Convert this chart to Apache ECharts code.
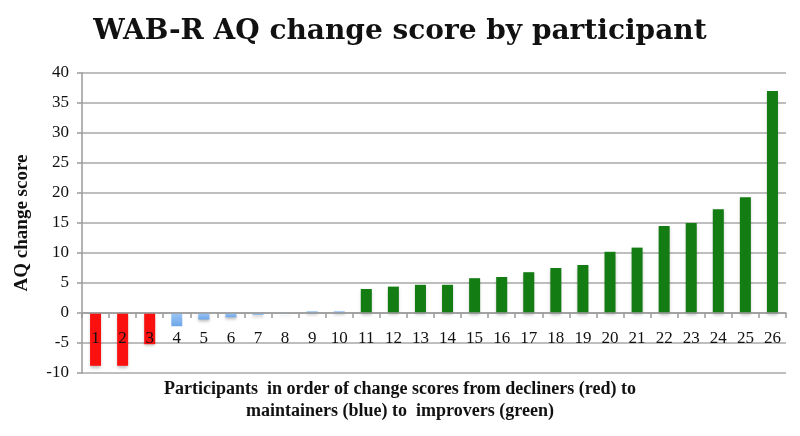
<!DOCTYPE html>
<html>
<head>
<meta charset="utf-8">
<script src="https://cdn.jsdelivr.net/npm/echarts@6/dist/echarts.min.js"></script>
<style>
  html, body { margin: 0; padding: 0; background: #fff; }
  #chart { width: 800px; height: 436px; }
</style>
</head>
<body>
<div id="chart"></div>
<script>
// participants, sorted by change score
var participants = ['1', '2', '3', '4', '5', '6', '7', '8', '9', '10', '11', '12', '13',
  '14', '15', '16', '17', '18', '19', '20', '21', '22', '23', '24', '25', '26']
var changeScores = [-8.8, -8.8, -5.2, -2.2, -1.1, -0.7, -0.3, -0.1, 0.3, 0.3, 4.0, 4.4, 4.7,
  4.7, 5.8, 6.0, 6.8, 7.5, 8.0, 10.2, 10.9, 14.5, 15.0, 17.3, 19.3, 37.0]
// d = decliner, m = maintainer, i = improver
var groups = ['d', 'd', 'd', 'm', 'm', 'm', 'm', 'm', 'm', 'm', 'i', 'i', 'i',
  'i', 'i', 'i', 'i', 'i', 'i', 'i', 'i', 'i', 'i', 'i', 'i', 'i']
var yTicks = [-10, 40, 5]
var xTitleLines = [
  'Participants  in order of change scores from decliners (red) to',
  'maintainers (blue) to  improvers (green)'
]

var groupColors = {
  d: '#fb1010',
  m: new echarts.graphic.LinearGradient(0, 0, 0, 1, [
    { offset: 0, color: '#9cc6f6' },
    { offset: 1, color: '#6ea6e8' }
  ]),
  i: '#137c13'
}

var serif = "'Liberation Serif', 'DejaVu Serif', serif"

var barData = changeScores.map(function (v, i) {
  return {
    value: v,
    itemStyle: { color: groupColors[groups[i]] }
  }
})

var myChart = echarts.init(document.getElementById('chart'))
var option = {
  backgroundColor: '#fff',
  title: {
    text: 'WAB-R AQ change score by participant',
    left: 'center',
    top: 13,
    textStyle: {
      fontFamily: "'DejaVu Serif', serif",
      fontWeight: 'bold',
      fontSize: 28,
      color: '#111'
    }
  },
  grid: { left: 82, right: 14, top: 73, bottom: 63 },
  xAxis: {
    type: 'category',
    data: participants,
    // axis sits on the zero line: 10 units * 6px above the grid bottom
    offset: -60,
    axisLine: { onZero: false, lineStyle: { color: '#9a9a9a', width: 1.5 } },
    axisTick: { show: true, length: 5, lineStyle: { color: '#9a9a9a', width: 1.5 } },
    axisLabel: {
      margin: 17,
      fontFamily: serif,
      fontSize: 17,
      color: '#111'
    },
    z: 3
  },
  yAxis: {
    type: 'value',
    min: yTicks[0],
    max: yTicks[1],
    interval: yTicks[2],
    name: 'AQ change score',
    nameLocation: 'middle',
    nameRotate: 90,
    nameGap: 50,
    nameTextStyle: {
      fontFamily: serif,
      fontWeight: 'bold',
      fontSize: 19,
      color: '#111'
    },
    axisLine: { show: true, lineStyle: { color: '#9a9a9a', width: 1.5 } },
    axisTick: { show: true, length: 5, lineStyle: { color: '#9a9a9a', width: 1.5 } },
    axisLabel: {
      margin: 13,
      fontFamily: serif,
      fontSize: 17,
      color: '#111'
    },
    splitLine: { show: true, lineStyle: { color: '#a8a8a8', width: 1.5 } }
  },
  graphic: xTitleLines.map(function (line, i) {
    return {
      type: 'text',
      left: 'center',
      top: 380 + i * 22,
      style: {
        text: line,
        fontFamily: serif,
        fontWeight: 'bold',
        fontSize: 18,
        fill: '#111'
      }
    }
  }),
  series: [{
    type: 'bar',
    data: barData,
    barWidth: 11,
    itemStyle: {
      shadowColor: 'rgba(0,0,0,0.25)',
      shadowBlur: 3,
      shadowOffsetY: 2
    }
  }]
}
myChart.setOption(option)
</script>
</body>
</html>
